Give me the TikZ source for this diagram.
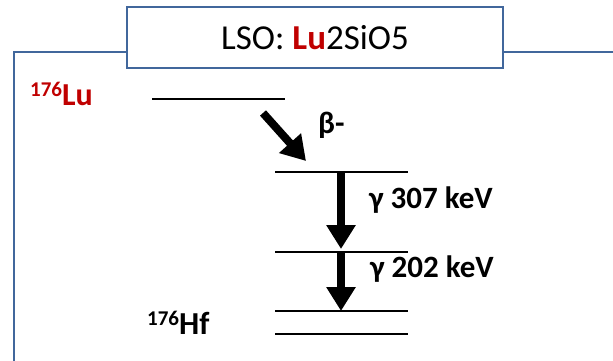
\documentclass[tikz,border=0pt]{standalone}
\usepackage{fontspec}
\setmainfont{Carlito}
\usetikzlibrary{arrows.meta,positioning,calc}
\definecolor{frameblue}{HTML}{41679C}
\definecolor{lured}{HTML}{C00000}

\begin{document}
\begin{tikzpicture}[x=1pt,y=-1pt,
        lvl/.style={line width=2.8pt,black},
        decay/.style={-{Triangle[length=24pt,width=28pt]},line width=8pt,black},
        lab/.style={font=\fontsize{31}{34}\selectfont\bfseries,anchor=west,inner sep=0pt},
        nuc/.style={font=\fontsize{32}{34}\selectfont\bfseries,inner sep=0pt}]
        \useasboundingbox (0,0) rectangle (613,361);
        % frame and title
        \draw[frameblue,line width=1.6pt] (14,368) -- (14,52) -- (127,52);
        \draw[frameblue,line width=1.6pt] (503,52) -- (620,52);
        \node[draw=frameblue,line width=1.6pt,fill=white,minimum width=376pt,
          minimum height=61pt,inner sep=0pt,font=\fontsize{35}{38}\selectfont]
          (title) at (315,37.5) {LSO: \textcolor{lured}{\textbf{Lu}}2SiO5};
        % levels
        \coordinate (lua) at (152,99);  \coordinate (lub) at (285,99);
        \coordinate (e1a) at (275,172); \coordinate (e1b) at (408,172);
        \coordinate (e2a) at (275,252); \coordinate (e2b) at (408,252);
        \coordinate (e3a) at (275,311); \coordinate (e3b) at (408,311);
        \coordinate (e4a) at (275,334); \coordinate (e4b) at (408,334);
        \foreach \l in {lu,e1,e2,e3,e4}
          \draw[lvl] (\l a) -- (\l b);
        % labels
        \node[nuc,text=lured,anchor=west] (lu) at (30,94)
          {\raisebox{9pt}{\fontsize{21}{22}\selectfont 176}Lu};
        \node[nuc,anchor=west] (hf) at (147,323)
          {\raisebox{9pt}{\fontsize{21}{22}\selectfont 176}Hf};
        % transitions
        \coordinate (b0) at (263,113); \coordinate (b1) at (306,161);
        \coordinate (g0) at (341,173); \coordinate (g1) at (341,249);
        \coordinate (h0) at (341,253); \coordinate (h1) at (341,311);
        \draw[decay] (b0) -- (b1);
        \draw[decay] (g0) -- (g1);
        \draw[decay] (h0) -- (h1);
        \node[lab] (beta) at (318,125) {β-};
        \node[lab] (gA) at (369,200) {γ 307 keV};
        \node[lab] (gB) at (370,269) {γ 202 keV};
      \end{tikzpicture}
\end{document}
